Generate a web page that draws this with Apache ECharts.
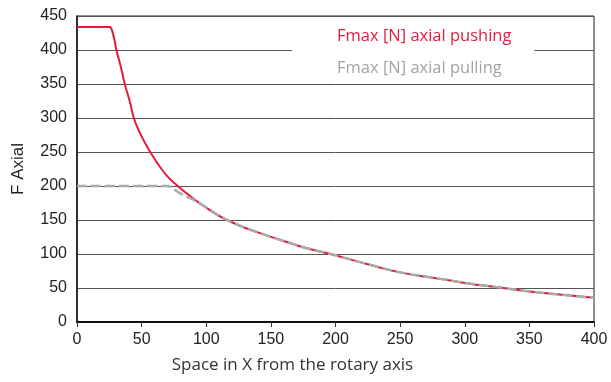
<!DOCTYPE html>
<html>
<head>
<meta charset="utf-8">
<script src="https://cdn.jsdelivr.net/npm/echarts@6/dist/echarts.min.js"></script>
<style>
html,body{margin:0;padding:0;background:#fff;}
#chart{width:611px;height:382px;}
</style>
</head>
<body>
<div id="chart"></div>
<script>
// Data
var pushingName = 'Fmax [N] axial pushing';
var pullingName = 'Fmax [N] axial pulling';
var xAxisTitle = 'Space in X from the rotary axis';
var yAxisTitle = 'F Axial';

var pushingX = [0, 20, 25, 27.9, 30.5, 33.8, 37, 40.8, 44, 47, 50, 53, 56.4, 60, 65.4, 71, 78, 85, 97, 116, 141, 157, 175, 196, 225, 250, 281, 300, 330, 350, 375, 400];
var pushingY = [434, 434, 434, 423, 400, 376, 350, 324.5, 300, 285, 273, 262, 251, 240, 225, 212, 200, 189, 172, 150, 131, 121, 110, 100, 85, 73, 63.4, 57.5, 50, 45, 40, 35.5];

var pullingX = [0, 65, 70, 75, 80, 90, 97, 116, 141, 157, 175, 196, 225, 250, 281, 300, 330, 350, 375, 400];
var pullingY = [200, 200, 200, 195, 189, 180, 172, 150, 131, 121, 110, 100, 85, 73, 63.4, 57.5, 50, 45, 40, 35.5];

function pairs(xs, ys) { return xs.map(function (x, i) { return [x, ys[i]]; }); }

var chart = echarts.init(document.getElementById('chart'), null, {renderer: 'canvas'});
chart.setOption({
  animation: false,
  backgroundColor: '#ffffff',
  grid: {left: 77, right: 17, top: 16, bottom: 60, show: true, borderColor: '#222', borderWidth: 1, containLabel: false},
  legend: {
    orient: 'vertical',
    left: 292,
    top: 20,
    backgroundColor: '#ffffff',
    padding: [6, 23, 2, 40],
    itemWidth: 0,
    itemHeight: 0,
    itemGap: 12,
    selectedMode: false,
    textStyle: {fontFamily: 'Open Sans', fontSize: 16.5, lineHeight: 20},
    data: [
      {name: pushingName, icon: 'rect', textStyle: {color: '#e31b3d'}},
      {name: pullingName, icon: 'rect', textStyle: {color: '#a3a3a3'}}
    ]
  },
  xAxis: {
    type: 'value',
    min: 0, max: 400, interval: 50,
    name: xAxisTitle,
    nameLocation: 'middle',
    nameGap: 35,
    nameTextStyle: {fontFamily: 'Open Sans', fontSize: 17, color: '#333', padding: [0, 86, 0, 0]},
    axisLine: {show: true, lineStyle: {color: '#111', width: 2}},
    axisTick: {show: true, inside: false, length: 5, lineStyle: {color: '#333'}},
    axisLabel: {fontFamily: 'Liberation Sans', fontSize: 16, color: '#222', margin: 10},
    splitLine: {show: false}
  },
  yAxis: {
    type: 'value',
    min: 0, max: 450, interval: 50,
    name: yAxisTitle,
    nameLocation: 'middle',
    nameGap: 50,
    nameRotate: 90,
    nameTextStyle: {fontFamily: 'Liberation Sans', fontSize: 17, color: '#222'},
    axisLine: {show: true, lineStyle: {color: '#111', width: 1.5}},
    axisTick: {show: false},
    axisLabel: {fontFamily: 'Liberation Sans', fontSize: 16, color: '#222', margin: 10},
    splitLine: {show: true, lineStyle: {color: '#555', width: 1}}
  },
  series: [
    {
      name: pushingName,
      type: 'line',
      data: pairs(pushingX, pushingY),
      showSymbol: false,
      symbol: 'none',
      smooth: 0.5,
      lineStyle: {color: '#e31b3d', width: 2},
      itemStyle: {color: '#e31b3d'},
      z: 3
    },
    {
      name: pullingName,
      type: 'line',
      data: pairs(pullingX, pullingY),
      showSymbol: false,
      symbol: 'none',
      smooth: 0.4,
      lineStyle: {color: '#aaaaaa', width: 2.5, type: [10, 4]},
      itemStyle: {color: '#aaaaaa'},
      z: 4
    }
  ]
});
</script>
</body>
</html>
